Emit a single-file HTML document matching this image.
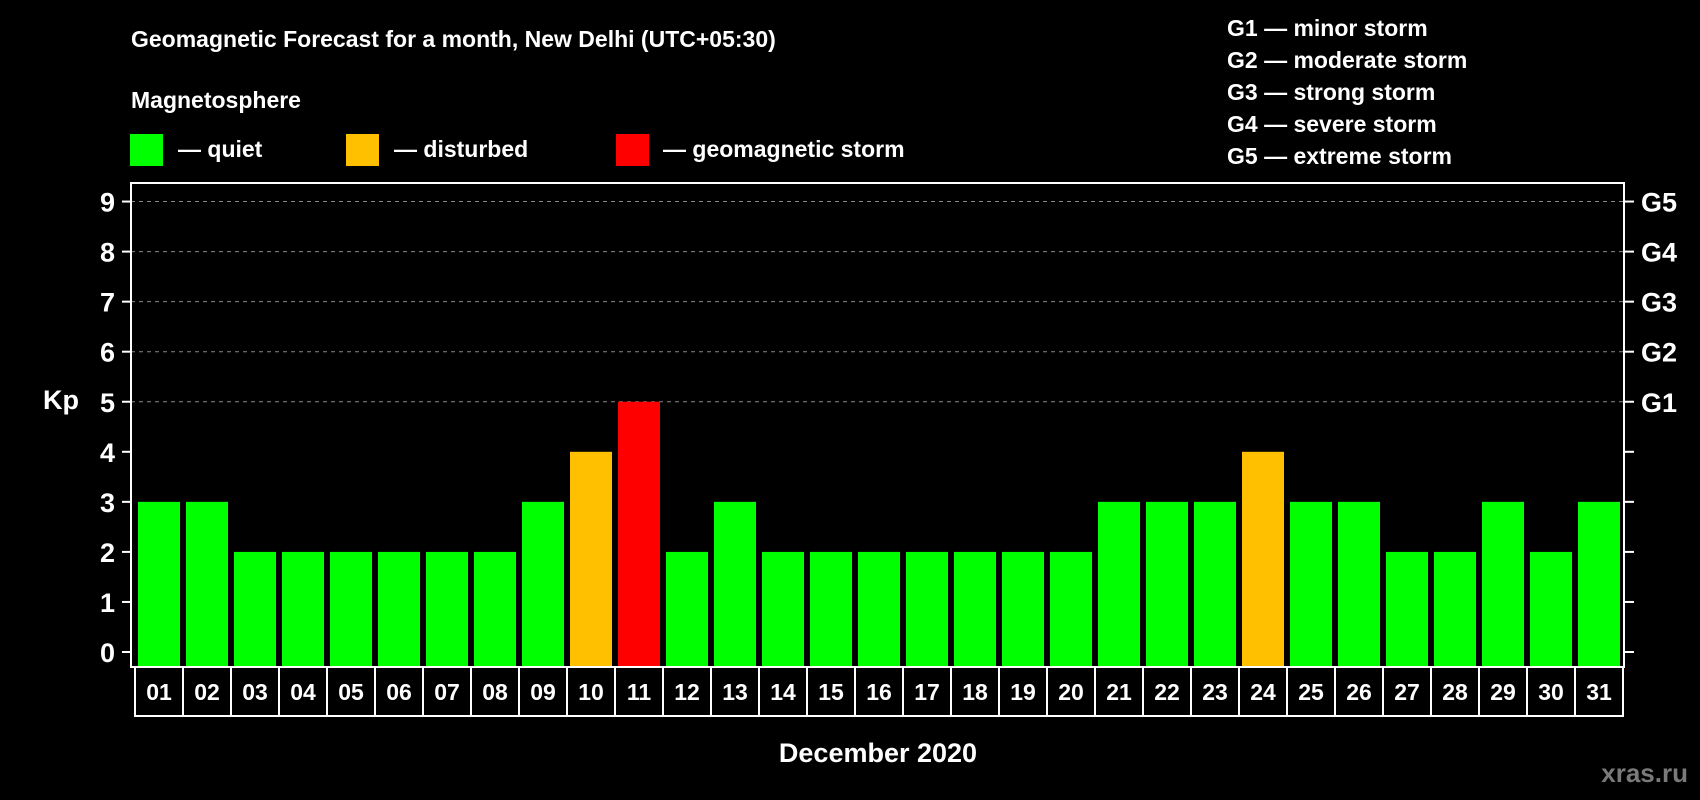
<!DOCTYPE html>
<html><head><meta charset="utf-8"><style>
html,body{margin:0;padding:0;background:#000;}
svg{display:block;font-family:"Liberation Sans",Arial,sans-serif;font-weight:bold;}
</style></head><body>
<svg id="c" width="1700" height="800" viewBox="0 0 1700 800">
<rect x="0" y="0" width="1700" height="800" fill="#000"/>
<text x="131" y="47" fill="#fff" font-size="23">Geomagnetic Forecast for a month, New Delhi (UTC+05:30)</text>
<text x="131" y="108" fill="#fff" font-size="23">Magnetosphere</text>
<rect x="130" y="134" width="33" height="32" fill="#00ff00"/>
<text x="178" y="157" fill="#fff" font-size="23">— quiet</text>
<rect x="346" y="134" width="33" height="32" fill="#ffc000"/>
<text x="394" y="157" fill="#fff" font-size="23">— disturbed</text>
<rect x="616" y="134" width="33" height="32" fill="#ff0000"/>
<text x="663" y="157" fill="#fff" font-size="23">— geomagnetic storm</text>
<g fill="#fff" font-size="23">
<text x="1227" y="36">G1 — minor storm</text>
<text x="1227" y="68">G2 — moderate storm</text>
<text x="1227" y="100">G3 — strong storm</text>
<text x="1227" y="132">G4 — severe storm</text>
<text x="1227" y="164">G5 — extreme storm</text>
</g>
<text x="43" y="409" fill="#fff" font-size="27">Kp</text>
<text x="878" y="762" fill="#fff" font-size="27" text-anchor="middle">December 2020</text>
<text x="1688" y="782" fill="#7a7a7a" font-size="26" text-anchor="end">xras.ru</text>
<g id="plot"></g>
</svg>
<script>
const days = ["01","02","03","04","05","06","07","08","09","10","11","12","13","14","15","16","17","18","19","20","21","22","23","24","25","26","27","28","29","30","31"];
const kpValues = [3,3,2,2,2,2,2,2,3,4,5,2,3,2,2,2,2,2,2,2,3,3,3,4,3,3,2,2,3,2,3];
const yTicks = [0,1,2,3,4,5,6,7,8,9];
const gLabels = ["G1","G2","G3","G4","G5"];
const gLevels = [5,6,7,8,9];

const NS = "http://www.w3.org/2000/svg";
const plot = document.getElementById("plot");
const L = 131, R = 1624, T = 183, B = 667;
const y0 = 652, unit = 50.05;
const yScale = v => y0 - v * unit;
const pitch = 48, first = 159;
const xCenter = i => first + i * pitch;
function mk(tag, attrs) { const e = document.createElementNS(NS, tag); for (const k in attrs) e.setAttribute(k, attrs[k]); plot.appendChild(e); return e; }

// gridlines
gLevels.forEach(v => {
  const g = mk("line", {x1: L, x2: R, y1: yScale(v), y2: yScale(v), stroke: "#888", "stroke-width": 1, "stroke-dasharray": "4,4"});
  
  
});
// bars
kpValues.forEach((v, i) => {
  const col = v >= 5 ? "#ff0000" : (v >= 4 ? "#ffc000" : "#00ff00");
  const b = mk("rect", {x: xCenter(i) - 21, y: yScale(v), width: 42, height: B - yScale(v), fill: col});
  
  
});
// frame
const fr = mk("rect", {x: L, y: T, width: R - L, height: B - T, fill: "none", stroke: "#fff", "stroke-width": 2});


// y ticks
yTicks.forEach(v => {
  const y = yScale(v);
  const t1 = mk("line", {x1: 122, x2: L, y1: y, y2: y, stroke: "#fff", "stroke-width": 2});
  
  
  const t2 = mk("line", {x1: R, x2: 1634, y1: y, y2: y, stroke: "#fff", "stroke-width": 2});
  
  
  const tl = mk("text", {x: 115, y: y + 10, fill: "#fff", "font-size": 27, "text-anchor": "end"});
  tl.textContent = v;
  
  
});
gLevels.forEach((v, i) => {
  const gl = mk("text", {x: 1641, y: yScale(v) + 10, fill: "#fff", "font-size": 27});
  gl.textContent = gLabels[i];
  
  
});
// date boxes
days.forEach((d, i) => {
  const x = xCenter(i) - 24;
  const r = mk("rect", {x: x, y: B, width: pitch, height: 49, fill: "#000", stroke: "#fff", "stroke-width": 2});
  
  
  const t = mk("text", {x: xCenter(i), y: B + 33, fill: "#fff", "font-size": 23, "text-anchor": "middle"});
  t.textContent = d;
  
  
});
</script>
</body></html>
